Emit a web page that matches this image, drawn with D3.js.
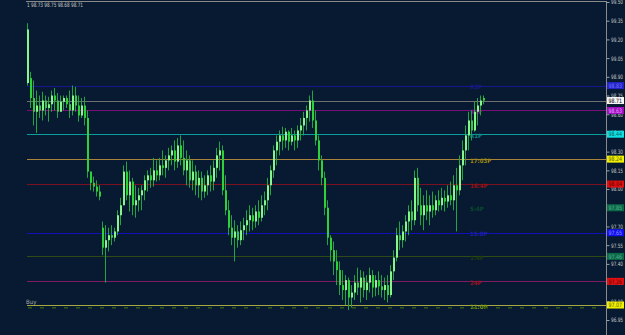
<!DOCTYPE html>
<html>
<head>
<meta charset="utf-8">
<script src="https://cdn.jsdelivr.net/npm/d3@7"></script>
<style>
  html, body { margin: 0; padding: 0; background: #071a31; }
  svg { display: block; }
  text { font-family: "Liberation Sans Narrow", "DejaVu Sans Condensed", sans-serif; }
</style>
</head>
<body>
<div id="chart"></div>
<script>
// bar data (prices), one entry per bar
const barOpen = [98.85,98.89,98.73,98.62,98.67,98.63,98.71,98.65,98.68,98.75,98.71,98.62,98.70,98.73,98.68,98.63,98.75,98.67,98.59,98.67,
  98.57,98.14,98.05,98.02,97.98,97.69,97.53,97.59,97.63,97.61,97.66,97.79,97.87,98.14,97.95,98.06,97.87,97.91,97.95,97.99,
  98.07,98.11,98.07,98.15,98.11,98.19,98.17,98.23,98.27,98.31,98.22,98.35,98.25,98.15,98.23,98.07,98.14,98.03,98.09,97.98,
  98.03,98.11,98.06,98.17,98.27,98.31,97.99,97.83,97.69,97.61,97.66,97.59,97.67,97.71,97.75,97.79,97.74,97.82,97.77,97.87,
  97.91,98.03,98.15,98.31,98.38,98.43,98.39,98.46,98.38,98.43,98.39,98.47,98.51,98.57,98.63,98.71,98.55,98.39,98.23,98.09,
  97.85,97.61,97.51,97.42,97.35,97.23,97.19,97.27,97.13,97.17,97.25,97.21,97.29,97.19,97.25,97.31,97.21,97.27,97.22,97.19,
  97.23,97.15,97.34,97.45,97.63,97.59,97.66,97.74,97.82,97.75,98.09,97.87,97.79,97.87,97.82,97.87,97.83,97.91,97.87,97.93,
  97.90,97.95,97.91,98.03,97.99,98.19,98.31,98.43,98.55,98.47,98.62,98.67,98.73];
const barHigh = [99.33,98.94,98.87,98.79,98.75,98.78,98.75,98.74,98.79,98.81,98.77,98.75,98.75,98.75,98.79,98.83,98.82,98.75,98.73,98.74,
  98.63,98.14,98.10,98.07,98.03,97.74,97.71,97.69,97.71,97.69,97.83,97.93,98.19,98.22,98.15,98.09,98.03,98.01,98.03,98.11,
  98.15,98.17,98.25,98.23,98.25,98.31,98.27,98.33,98.35,98.39,98.41,98.43,98.39,98.31,98.27,98.23,98.19,98.15,98.14,98.11,
  98.15,98.19,98.23,98.33,98.38,98.35,98.11,97.91,97.79,97.75,97.71,97.74,97.77,97.83,97.87,97.85,97.87,97.91,97.95,97.98,
  98.09,98.19,98.35,98.43,98.47,98.50,98.49,98.47,98.49,98.47,98.51,98.57,98.62,98.67,98.75,98.79,98.63,98.43,98.27,98.14,
  97.91,97.63,97.58,97.51,97.42,97.35,97.31,97.29,97.23,97.31,97.37,97.35,97.34,97.31,97.37,97.35,97.31,97.34,97.31,97.29,
  97.31,97.39,97.51,97.69,97.74,97.71,97.79,97.87,97.91,98.15,98.17,98.01,97.95,97.99,97.95,97.98,97.95,97.99,98.01,97.99,
  98.03,98.06,98.11,98.17,98.27,98.39,98.51,98.62,98.63,98.70,98.73,98.75,98.75];
const barLow = [98.83,98.65,98.51,98.45,98.57,98.55,98.59,98.54,98.62,98.63,98.57,98.62,98.63,98.65,98.57,98.59,98.62,98.54,98.57,98.51,
  98.09,97.99,97.98,97.94,97.91,97.47,97.25,97.50,97.55,97.58,97.63,97.71,97.87,97.91,97.82,97.79,97.77,97.82,97.83,97.91,
  97.98,98.01,98.02,98.06,98.07,98.11,98.09,98.15,98.19,98.15,98.17,98.19,98.11,98.03,98.01,97.99,97.95,97.93,97.91,97.93,
  97.95,97.98,97.99,98.09,98.15,97.95,97.79,97.63,97.55,97.42,97.53,97.55,97.59,97.63,97.66,97.67,97.69,97.71,97.74,97.79,
  97.83,97.95,98.09,98.19,98.27,98.31,98.33,98.31,98.35,98.31,98.33,98.39,98.43,98.47,98.54,98.49,98.35,98.15,98.03,97.79,
  97.55,97.42,97.31,97.23,97.15,97.11,97.07,97.03,97.05,97.11,97.15,97.09,97.13,97.11,97.17,97.13,97.14,97.15,97.13,97.11,
  97.09,97.13,97.27,97.42,97.51,97.53,97.58,97.63,97.67,97.71,97.82,97.71,97.67,97.75,97.71,97.77,97.79,97.82,97.83,97.82,
  97.85,97.87,97.83,97.66,97.95,98.07,98.19,98.31,98.39,98.46,98.51,98.59,98.68];
const barClose = [99.28,98.73,98.62,98.67,98.63,98.71,98.65,98.68,98.75,98.71,98.62,98.70,98.73,98.68,98.63,98.75,98.67,98.59,98.67,98.57,
  98.14,98.05,98.02,97.98,97.94,97.53,97.59,97.63,97.61,97.66,97.79,97.87,98.14,97.95,98.06,97.87,97.91,97.95,97.99,98.07,
  98.11,98.07,98.15,98.11,98.19,98.17,98.23,98.27,98.31,98.22,98.35,98.25,98.15,98.23,98.07,98.14,98.03,98.09,97.98,98.03,
  98.11,98.06,98.17,98.27,98.31,97.99,97.83,97.69,97.61,97.66,97.59,97.67,97.71,97.75,97.79,97.74,97.82,97.77,97.87,97.91,
  98.03,98.15,98.31,98.38,98.43,98.39,98.46,98.38,98.43,98.39,98.47,98.51,98.57,98.63,98.71,98.55,98.39,98.23,98.09,97.85,
  97.61,97.51,97.42,97.35,97.23,97.19,97.27,97.13,97.17,97.25,97.21,97.29,97.19,97.25,97.31,97.21,97.27,97.22,97.19,97.23,
  97.15,97.34,97.45,97.63,97.59,97.66,97.74,97.82,97.75,98.09,97.87,97.79,97.87,97.82,97.87,97.83,97.91,97.87,97.93,97.90,
  97.95,97.91,98.03,97.99,98.19,98.31,98.43,98.55,98.47,98.62,98.67,98.71,98.71];

// price axis
const tickValues = [99.50,99.35,99.20,99.05,98.90,98.75,98.60,98.45,98.30,98.15,98.00,97.85,97.70,97.55,97.40,97.25,97.10,96.95];

// horizontal levels with their price boxes
const levelValues = [98.83, 98.71, 98.63, 98.44, 98.24, 98.04, 97.85, 97.65, 97.46, 97.26, 97.07];
const levelHasLine = [true, true, true, true, true, true, false, true, true, true, true];
const levelNames = ["R3P", "", "R2P", "R1P", "17:03P", "16:4P", "S:4P", "15:0P", "1:4P", "24P", "11:0P"];
const headerText = "1 98.73 98.75 98.68 98.71";
const orderText = "Buy";

// styles (kept apart from the data)
const LINE_CLR = ["#15158e","#707070","#7a0d7a","#0a9e9e","#a8843a","#7a1020","#0b5a3a","#1010b4","#2f4a12","#7e1a66","#a8a840"];
const BOX_CLR  = ["#2424c8","#f4f4f4","#a010c0","#10e0e0","#f0f000","#e01010","#0d6a48","#1010f0","#0d6a48","#e01010","#f0f000"];
const TXT_CLR  = ["#1a1a80","#444444","#7a1a8a","#0a8a8a","#a08a10","#a01010","#0b4a30","#2020b0","#1d3d10","#a01020","#7a9a10"];
const BOX_TXT  = ["#7070ff","#000000","#e8a0ff","#006060","#606000","#600000","#50b090","#9090ff","#50b090","#600000","#606000"];

const W = 625, H = 335;
const plot = { left: 26, right: 606, top: 1 };

const svg = d3.select("#chart").append("svg").attr("width", W).attr("height", H);
svg.append("rect").attr("width", W).attr("height", H).attr("fill", "#071a31");

const x = d3.scaleLinear().domain([0, barClose.length - 1]).range([27, 483]);
const y = d3.scaleLinear().domain([96.95, 99.50]).range([320, 2]);
const fmt = d3.format(".2f");

// frame
svg.append("line").attr("x1", plot.left).attr("x2", plot.right).attr("y1", 1.5).attr("y2", 1.5)
  .attr("stroke", "#8a8a8a").attr("stroke-width", 1);
svg.append("line").attr("x1", plot.right + 0.5).attr("x2", plot.right + 0.5).attr("y1", 1).attr("y2", H)
  .attr("stroke", "#8a8a8a").attr("stroke-width", 1);

// levels
const lv = svg.append("g");
levelValues.forEach((v, i) => {
  if (levelHasLine[i]) {
    lv.append("line").attr("x1", plot.left + 1).attr("x2", plot.right)
      .attr("y1", Math.round(y(v)) + 0.5).attr("y2", Math.round(y(v)) + 0.5)
      .attr("stroke", LINE_CLR[i]).attr("stroke-width", 1);
  }
  if (levelNames[i]) {
    lv.append("text").attr("x", 470).attr("y", y(v) + 3.5)
      .attr("fill", TXT_CLR[i]).attr("font-size", 6).attr("font-weight", "bold").text(levelNames[i]);
  }
});

// dotted marks along the bottom level
const dots = d3.range(plot.left + 2, plot.right - 10, 12);
svg.append("g").selectAll("rect").data(dots).join("rect")
  .attr("x", d => d).attr("y", y(97.07) + 2).attr("width", 4).attr("height", 1.5)
  .attr("fill", "#2f5a18");

// bars
const bars = barClose.map((c, i) => ({ i, o: barOpen[i], h: barHigh[i], l: barLow[i], c }));
const g = svg.append("g");
g.selectAll("line.wick").data(bars).join("line").attr("class", "wick")
  .attr("x1", d => Math.round(x(d.i)) + 0.5).attr("x2", d => Math.round(x(d.i)) + 0.5)
  .attr("y1", d => y(d.h)).attr("y2", d => y(d.l))
  .attr("stroke", "#23a442").attr("stroke-width", 1);
g.selectAll("rect.body").data(bars).join("rect").attr("class", "body")
  .attr("x", d => Math.round(x(d.i)))
  .attr("y", d => y(Math.max(d.o, d.c)))
  .attr("width", 2)
  .attr("height", d => Math.max(1, Math.abs(y(d.o) - y(d.c))))
  .attr("fill", d => d.c >= d.o ? "#86f58c" : "#2fd13a");

// right axis
const axis = d3.axisRight(y).tickValues(tickValues).tickSize(3).tickFormat(fmt);
const ax = svg.append("g").attr("transform", `translate(${plot.right + 0.5},0)`).call(axis);
ax.select(".domain").remove();
ax.selectAll(".tick line").attr("stroke", "#a0a0a0");
ax.selectAll(".tick text").attr("fill", "#c8c8c8").attr("font-size", 6).attr("x", 4.5)
  .attr("font-family", "Liberation Sans Narrow, DejaVu Sans Condensed, sans-serif")
  .attr("textLength", 12).attr("lengthAdjust", "spacingAndGlyphs");

// price boxes
levelValues.forEach((v, i) => {
  const yy = y(v);
  svg.append("rect").attr("x", plot.right + 1).attr("y", yy - 3.5).attr("width", 17).attr("height", 7)
    .attr("fill", BOX_CLR[i]);
  svg.append("text").attr("x", plot.right + 2.5).attr("y", yy + 2.3)
    .attr("fill", BOX_TXT[i]).attr("font-size", 6).attr("textLength", 13.5)
    .attr("lengthAdjust", "spacingAndGlyphs").text(fmt(v));
});

// header and order label
svg.append("text").attr("x", 27).attr("y", 7).attr("fill", "#c8c8c8").attr("font-size", 6)
  .attr("textLength", 56).attr("lengthAdjust", "spacingAndGlyphs").text(headerText);
svg.append("text").attr("x", 26).attr("y", 304).attr("fill", "#a8a8a8").attr("font-size", 6).text(orderText);
</script>
</body>
</html>
